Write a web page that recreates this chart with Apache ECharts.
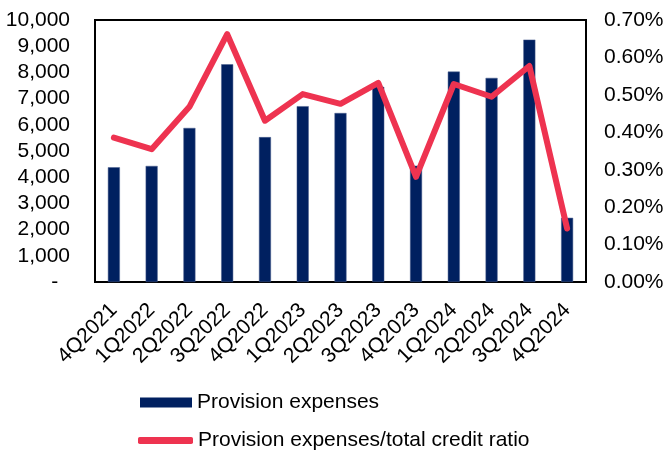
<!DOCTYPE html>
<html>
<head>
<meta charset="utf-8">
<script src="https://cdn.jsdelivr.net/npm/echarts@6/dist/echarts.min.js"></script>
<style>
  html, body { margin: 0; padding: 0; background: #ffffff; }
  #chart { width: 667px; height: 452px; }
</style>
</head>
<body>
<div id="chart"></div>
<script>
// Quarterly provision expenses (bars, left axis) and ratio to total credit (line, right axis)
const quarters = ['4Q2021', '1Q2022', '2Q2022', '3Q2022', '4Q2022', '1Q2023', '2Q2023',
                  '3Q2023', '4Q2023', '1Q2024', '2Q2024', '3Q2024', '4Q2024'];
const provisionExpenses = [4380, 4430, 5880, 8310, 5530, 6710, 6450, 7450, 4440, 8030, 7790, 9250, 2450];
const provisionRatio = [0.386, 0.355, 0.468, 0.662, 0.431, 0.502, 0.476, 0.532, 0.281, 0.529, 0.495, 0.577, 0.143];
const leftTicks = { min: 0, max: 10000, interval: 1000 };
const rightTicks = { min: 0, max: 0.7, interval: 0.1 };
const seriesNames = ['Provision expenses', 'Provision expenses/total credit ratio'];

const FONT = 'Liberation Sans, Arial, sans-serif';
const FS = 21;
const NAVY = '#002060';
const RED = '#EE3350';

const chart = echarts.init(document.getElementById('chart'), null, { renderer: 'canvas' });

const legendText = { fontFamily: FONT, fontSize: FS, color: '#000000' };

chart.setOption({
  animation: false,
  backgroundColor: '#ffffff',
  textStyle: { fontFamily: FONT },
  grid: {
    left: 95, top: 20, right: 81, bottom: 170,
    show: true, borderColor: '#000000', borderWidth: 2, backgroundColor: 'transparent'
  },
  // one legend per row, stacked under the plot
  legend: [
    {
      left: 140, top: 392, padding: 0,
      itemWidth: 52, itemHeight: 10,
      textStyle: legendText,
      data: [{ name: seriesNames[0], icon: 'rect', itemStyle: { borderWidth: 0 } }]
    },
    {
      left: 138, top: 430, padding: 0,
      itemWidth: 55, itemHeight: 7,
      textStyle: legendText,
      data: [{ name: seriesNames[1], icon: 'roundRect' }]
    }
  ],
  xAxis: {
    type: 'category',
    data: quarters,
    axisLine: { show: false },
    axisTick: { show: false },
    axisLabel: {
      rotate: 45, interval: 0, margin: 25,
      fontFamily: FONT, fontSize: FS, color: '#000000'
    }
  },
  yAxis: [
    {
      type: 'value',
      min: leftTicks.min, max: leftTicks.max, interval: leftTicks.interval,
      splitLine: { show: false },
      axisLine: { show: false },
      axisTick: { show: false },
      axisLabel: {
        margin: 25, fontFamily: FONT, fontSize: FS, color: '#000000',
        formatter: v => v === 0 ? '-  ' : v.toLocaleString('en-US')
      }
    },
    {
      type: 'value',
      min: rightTicks.min, max: rightTicks.max, interval: rightTicks.interval,
      splitLine: { show: false },
      axisLine: { show: false },
      axisTick: { show: false },
      axisLabel: {
        margin: 18, fontFamily: FONT, fontSize: FS, color: '#000000',
        formatter: v => v.toFixed(2) + '%'
      }
    }
  ],
  series: [
    {
      name: seriesNames[0],
      type: 'bar',
      yAxisIndex: 0,
      barWidth: 12,
      itemStyle: { color: NAVY, borderColor: '#4a5f8f', borderWidth: 0.5 },
      data: provisionExpenses
    },
    {
      name: seriesNames[1],
      type: 'line',
      yAxisIndex: 1,
      symbol: 'none',
      lineStyle: { color: RED, width: 6, cap: 'round', join: 'round' },
      itemStyle: { color: RED },
      data: provisionRatio
    }
  ]
});
</script>
</body>
</html>
